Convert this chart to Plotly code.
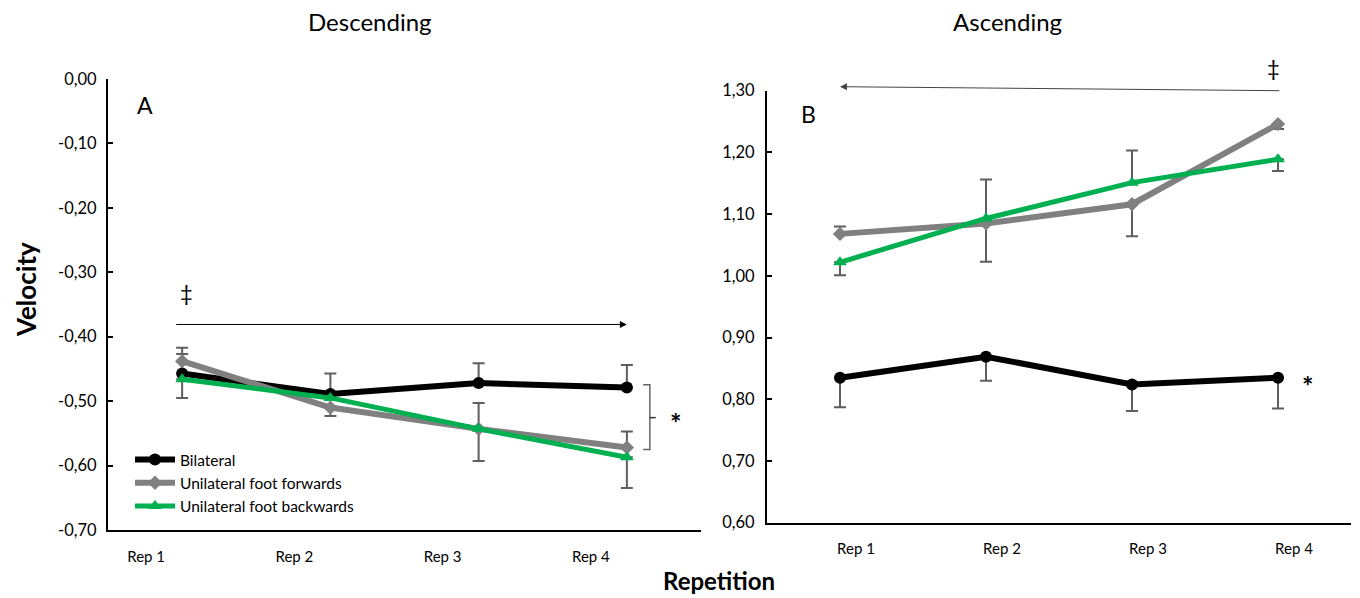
import plotly.graph_objects as go

# ---------------- data ----------------
reps = ["Rep 1", "Rep 2", "Rep 3", "Rep 4"]
xi = [0, 1, 2, 3]

# Descending (panel A)
desc_bilateral = [-0.457, -0.489, -0.472, -0.479]
desc_forward = [-0.438, -0.510, -0.543, -0.572]
desc_backward = [-0.466, -0.495, -0.543, -0.587]
desc_bil_up = [0.030, 0.032, 0.031, 0.035]
desc_bil_dn = [0.038, 0.0, 0.0, 0.0]
desc_fwd_up = [0.021, 0.0, 0.040, 0.025]
desc_fwd_dn = [0.0, 0.013, 0.050, 0.0]
desc_bwd_up = [0.0, 0.0, 0.0, 0.0]
desc_bwd_dn = [0.0, 0.0, 0.0, 0.048]

# Ascending (panel B)
asc_bilateral = [0.835, 0.869, 0.824, 0.835]
asc_forward = [1.068, 1.085, 1.116, 1.246]
asc_backward = [1.022, 1.093, 1.151, 1.189]
asc_bil_up = [0.0, 0.0, 0.0, 0.0]
asc_bil_dn = [0.048, 0.039, 0.043, 0.050]
asc_fwd_up = [0.012, 0.0, 0.0, 0.0]
asc_fwd_dn = [0.0, 0.062, 0.052, 0.008]
asc_bwd_up = [0.0, 0.063, 0.052, 0.0]
asc_bwd_dn = [0.021, 0.0, 0.0, 0.019]

desc_ticks = [0.0, -0.1, -0.2, -0.3, -0.4, -0.5, -0.6, -0.7]
desc_ticktext = ["0,00", "-0,10", "-0,20", "-0,30", "-0,40", "-0,50", "-0,60", "-0,70"]
asc_ticks = [1.3, 1.2, 1.1, 1.0, 0.9, 0.8, 0.7, 0.6]
asc_ticktext = ["1,30", "1,20", "1,10", "1,00", "0,90", "0,80", "0,70", "0,60"]

series_names = ["Bilateral", "Unilateral foot forwards", "Unilateral foot backwards"]
# --------------------------------------

FONT = "Lato"
BLACK = "#000000"
GRAY = "#808080"
GREEN = "#00B050"
ERR = "#5f5f5f"

styles = [
    dict(color=BLACK, width=6, symbol="circle", size=12),
    dict(color=GRAY, width=6, symbol="diamond", size=11),
    dict(color=GREEN, width=5, symbol="triangle-up", size=12),
]

fig = go.Figure()

desc_sets = [
    (desc_bilateral, desc_bil_up, desc_bil_dn),
    (desc_forward, desc_fwd_up, desc_fwd_dn),
    (desc_backward, desc_bwd_up, desc_bwd_dn),
]
asc_sets = [
    (asc_bilateral, asc_bil_up, asc_bil_dn),
    (asc_forward, asc_fwd_up, asc_fwd_dn),
    (asc_backward, asc_bwd_up, asc_bwd_dn),
]

for k, (vals, up, dn) in enumerate(desc_sets):
    st = styles[k]
    fig.add_trace(go.Scatter(
        x=xi, y=vals, name=series_names[k], mode="lines+markers",
        line=dict(color=st["color"], width=st["width"]),
        marker=dict(color=st["color"], symbol=st["symbol"], size=st["size"]),
        error_y=dict(type="data", symmetric=False, array=up, arrayminus=dn,
                     color=ERR, thickness=2, width=6),
        xaxis="x", yaxis="y", showlegend=True, cliponaxis=False,
    ))

for k, (vals, up, dn) in enumerate(asc_sets):
    st = styles[k]
    fig.add_trace(go.Scatter(
        x=xi, y=vals, name=series_names[k], mode="lines+markers",
        line=dict(color=st["color"], width=st["width"]),
        marker=dict(color=st["color"], symbol=st["symbol"], size=st["size"]),
        error_y=dict(type="data", symmetric=False, array=up, arrayminus=dn,
                     color=ERR, thickness=2, width=6),
        xaxis="x2", yaxis="y2", showlegend=False, cliponaxis=False,
    ))

# the page body adds an 8 px offset; lay out in window pixels
OFF = 8
W, H = 1360 - OFF, 598 - OFF

def px_x(p):
    return (p - OFF) / W

def px_y(p):
    return 1 - (p - OFF) / H

line_common = dict(showgrid=False, zeroline=False, showline=True, linecolor="black",
                   linewidth=2, automargin=False)
ytick_font = dict(family=FONT, size=16.5, color="#000000")
xtick_font = dict(family=FONT, size=15, color="#000000")

fig.update_layout(
    template="none",
    width=W, height=H,
    margin=dict(l=0, r=0, t=0, b=0, pad=0, autoexpand=False),
    plot_bgcolor="white", paper_bgcolor="white",
    font=dict(family=FONT, color="#000000"),
    xaxis=dict(domain=[px_x(108), px_x(701)], range=[-0.5, 3.5], anchor="y",
               tickvals=xi, ticktext=reps, ticks="", ticklabelshift=-36,
               ticklabelstandoff=12, tickfont=xtick_font, **line_common),
    yaxis=dict(domain=[px_y(530), px_y(79)], range=[-0.70, 0.0], anchor="x",
               tickvals=desc_ticks, ticktext=desc_ticktext, ticks="inside",
               ticklen=5, tickwidth=2, tickcolor="black", ticklabelstandoff=6,
               tickfont=ytick_font, **line_common),
    xaxis2=dict(domain=[px_x(767), px_x(1351)], range=[-0.5, 3.5], anchor="y2",
                tickvals=xi, ticktext=reps, ticks="", ticklabelshift=16,
                ticklabelstandoff=11, tickfont=xtick_font, **line_common),
    yaxis2=dict(domain=[px_y(522.7), px_y(90.7)], range=[0.60, 1.30], anchor="x2",
                tickvals=asc_ticks, ticktext=asc_ticktext, ticks="inside",
                ticklen=5, tickwidth=2, tickcolor="black", ticklabelstandoff=7,
                tickfont=ytick_font, **line_common),
    legend=dict(x=px_x(130), y=px_y(443), xanchor="left", yanchor="top",
                bgcolor="rgba(0,0,0,0)", font=dict(family=FONT, size=15.5, color="#000"),
                tracegroupgap=0, itemwidth=40),
    showlegend=True,
)

annotations = [
    dict(text="Descending", x=px_x(370), y=px_y(22), xref="paper", yref="paper",
         showarrow=False, font=dict(size=24, family=FONT), xanchor="center", yanchor="middle"),
    dict(text="Ascending", x=px_x(1007), y=px_y(22), xref="paper", yref="paper",
         showarrow=False, font=dict(size=24, family=FONT), xanchor="center", yanchor="middle"),
    dict(text="<b>Velocity</b>", x=px_x(26), y=px_y(290), xref="paper", yref="paper",
         showarrow=False, textangle=-90, font=dict(size=26, family=FONT),
         xanchor="center", yanchor="middle"),
    dict(text="<b>Repetition</b>", x=px_x(719), y=px_y(580), xref="paper", yref="paper",
         showarrow=False, font=dict(size=24, family=FONT), xanchor="center", yanchor="middle"),
    dict(text="A", x=px_x(145), y=px_y(105), xref="paper", yref="paper",
         showarrow=False, font=dict(size=23, family=FONT), xanchor="center", yanchor="middle"),
    dict(text="B", x=px_x(808), y=px_y(114), xref="paper", yref="paper",
         showarrow=False, font=dict(size=23, family=FONT), xanchor="center", yanchor="middle"),
    # double dagger marks
    dict(text="‡", x=px_x(186), y=px_y(292), xref="paper", yref="paper", showarrow=False,
         font=dict(size=22, family=FONT), xanchor="center", yanchor="middle"),
    dict(text="‡", x=px_x(1273), y=px_y(68), xref="paper", yref="paper", showarrow=False,
         font=dict(size=22, family=FONT), xanchor="center", yanchor="middle"),
    # asterisks
    dict(text="<b>*</b>", x=px_x(675), y=px_y(422), xref="paper", yref="paper", showarrow=False,
         font=dict(size=27, family=FONT), xanchor="center", yanchor="middle"),
    dict(text="<b>*</b>", x=px_x(1307), y=px_y(385), xref="paper", yref="paper", showarrow=False,
         font=dict(size=27, family=FONT), xanchor="center", yanchor="middle"),
    # arrows
    dict(x=3.0, y=-0.381, ax=-0.05, ay=-0.381, xref="x", yref="y", axref="x", ayref="y",
         showarrow=True, arrowhead=2, arrowsize=1.4, arrowwidth=1, arrowcolor="black", text=""),
    dict(x=0.0, y=1.3065, ax=3.02, ay=1.300, xref="x2", yref="y2", axref="x2", ayref="y2",
         showarrow=True, arrowhead=2, arrowsize=1.4, arrowwidth=1, arrowcolor="#444", text=""),
]
fig.update_layout(annotations=annotations)

# bracket near Rep 4 (panel A)
fig.add_shape(type="path", xref="x", yref="y",
              path="M 3.11 -0.4744 L 3.155 -0.4744 L 3.155 -0.575 L 3.11 -0.575",
              line=dict(color="#666666", width=1.5))
fig.add_shape(type="line", xref="x", yref="y", x0=3.155, x1=3.195, y0=-0.5256, y1=-0.5256,
              line=dict(color="#333333", width=1.5))

fig.write_html("out.html")
